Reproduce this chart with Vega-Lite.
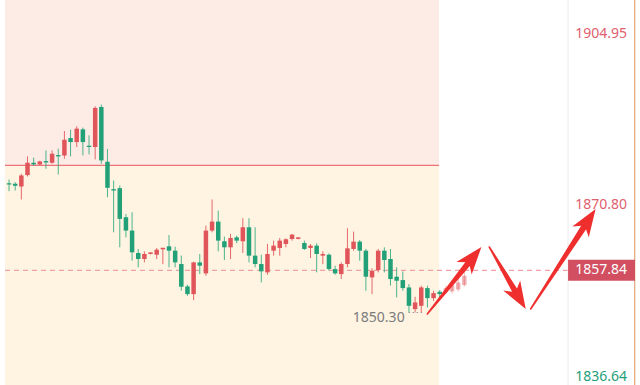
{
  "$schema": "https://vega.github.io/schema/vega-lite/v6.json",
  "width": 640,
  "height": 385,
  "padding": 0,
  "autosize": {"type": "none"},
  "background": "#ffffff",
  "config": {"view": {"stroke": null}},
  "datasets": {
    "zones": [
      {"zone": "upper", "x0": 0.344, "x1": 70.9, "lo": 1878.73, "hi": 1911.67},
      {"zone": "lower", "x0": 0.344, "x1": 70.9, "lo": 1835.0, "hi": 1878.73}
    ],
    "candles": [
      {"i": 1, "o": 1875.20, "h": 1875.93, "l": 1873.60, "c": 1874.93},
      {"i": 2, "o": 1875.06, "h": 1875.40, "l": 1873.73, "c": 1874.67},
      {"i": 3, "o": 1874.53, "h": 1877.06, "l": 1871.94, "c": 1876.73},
      {"i": 4, "o": 1876.80, "h": 1880.52, "l": 1876.53, "c": 1879.26},
      {"i": 5, "o": 1879.26, "h": 1880.26, "l": 1878.72, "c": 1878.92},
      {"i": 6, "o": 1878.92, "h": 1879.66, "l": 1878.79, "c": 1879.52},
      {"i": 7, "o": 1879.59, "h": 1881.72, "l": 1878.06, "c": 1879.32},
      {"i": 8, "o": 1879.26, "h": 1881.72, "l": 1879.06, "c": 1881.05},
      {"i": 9, "o": 1880.79, "h": 1882.05, "l": 1876.93, "c": 1880.52},
      {"i": 10, "o": 1880.72, "h": 1885.58, "l": 1880.06, "c": 1883.85},
      {"i": 11, "o": 1884.18, "h": 1885.85, "l": 1880.52, "c": 1883.38},
      {"i": 12, "o": 1883.38, "h": 1886.51, "l": 1882.39, "c": 1886.05},
      {"i": 13, "o": 1885.91, "h": 1886.25, "l": 1880.72, "c": 1883.38},
      {"i": 14, "o": 1882.65, "h": 1884.72, "l": 1880.92, "c": 1882.39},
      {"i": 15, "o": 1882.39, "h": 1890.51, "l": 1879.92, "c": 1890.17},
      {"i": 16, "o": 1890.37, "h": 1890.84, "l": 1879.06, "c": 1879.72},
      {"i": 17, "o": 1879.46, "h": 1881.99, "l": 1872.40, "c": 1874.27},
      {"i": 18, "o": 1874.00, "h": 1875.73, "l": 1865.41, "c": 1873.73},
      {"i": 19, "o": 1874.20, "h": 1874.73, "l": 1862.42, "c": 1868.08},
      {"i": 20, "o": 1868.41, "h": 1869.07, "l": 1864.41, "c": 1865.75},
      {"i": 21, "o": 1865.75, "h": 1869.41, "l": 1859.76, "c": 1861.42},
      {"i": 22, "o": 1861.29, "h": 1862.09, "l": 1858.43, "c": 1860.09},
      {"i": 23, "o": 1860.09, "h": 1861.62, "l": 1859.42, "c": 1861.09},
      {"i": 24, "o": 1861.10, "h": 1861.45, "l": 1861.00, "c": 1861.40},
      {"i": 25, "o": 1860.95, "h": 1862.29, "l": 1860.09, "c": 1861.95},
      {"i": 26, "o": 1862.02, "h": 1862.35, "l": 1859.09, "c": 1862.32},
      {"i": 27, "o": 1862.62, "h": 1864.88, "l": 1858.43, "c": 1861.75},
      {"i": 28, "o": 1861.75, "h": 1862.55, "l": 1858.43, "c": 1859.42},
      {"i": 29, "o": 1859.09, "h": 1860.76, "l": 1853.77, "c": 1854.57},
      {"i": 30, "o": 1854.63, "h": 1854.96, "l": 1852.77, "c": 1853.10},
      {"i": 31, "o": 1853.10, "h": 1859.56, "l": 1851.90, "c": 1859.42},
      {"i": 32, "o": 1859.42, "h": 1861.09, "l": 1857.09, "c": 1858.76},
      {"i": 33, "o": 1857.23, "h": 1866.74, "l": 1856.76, "c": 1865.75},
      {"i": 34, "o": 1865.75, "h": 1871.94, "l": 1865.41, "c": 1867.54},
      {"i": 35, "o": 1867.54, "h": 1869.74, "l": 1861.62, "c": 1863.75},
      {"i": 36, "o": 1863.62, "h": 1864.55, "l": 1859.89, "c": 1862.42},
      {"i": 37, "o": 1862.42, "h": 1865.08, "l": 1860.09, "c": 1864.28},
      {"i": 38, "o": 1864.41, "h": 1864.75, "l": 1863.22, "c": 1863.75},
      {"i": 39, "o": 1863.62, "h": 1868.21, "l": 1861.29, "c": 1866.41},
      {"i": 40, "o": 1866.41, "h": 1868.21, "l": 1859.42, "c": 1860.76},
      {"i": 41, "o": 1860.76, "h": 1866.41, "l": 1858.43, "c": 1859.09},
      {"i": 42, "o": 1859.09, "h": 1860.95, "l": 1855.43, "c": 1857.63},
      {"i": 43, "o": 1857.43, "h": 1863.08, "l": 1856.96, "c": 1861.09},
      {"i": 44, "o": 1861.75, "h": 1863.75, "l": 1860.76, "c": 1862.75},
      {"i": 45, "o": 1862.29, "h": 1864.28, "l": 1860.76, "c": 1863.75},
      {"i": 46, "o": 1863.08, "h": 1864.22, "l": 1862.42, "c": 1864.02},
      {"i": 47, "o": 1864.08, "h": 1865.08, "l": 1863.75, "c": 1864.95},
      {"i": 48, "o": 1864.10, "h": 1864.45, "l": 1864.00, "c": 1864.40},
      {"i": 49, "o": 1863.28, "h": 1863.75, "l": 1861.89, "c": 1862.09},
      {"i": 50, "o": 1862.29, "h": 1863.08, "l": 1860.29, "c": 1862.75},
      {"i": 51, "o": 1862.75, "h": 1863.22, "l": 1857.43, "c": 1861.09},
      {"i": 52, "o": 1860.76, "h": 1861.62, "l": 1859.09, "c": 1861.09},
      {"i": 53, "o": 1860.95, "h": 1861.22, "l": 1857.76, "c": 1858.09},
      {"i": 54, "o": 1858.09, "h": 1858.76, "l": 1856.96, "c": 1857.23},
      {"i": 55, "o": 1857.09, "h": 1859.42, "l": 1856.10, "c": 1859.09},
      {"i": 56, "o": 1859.09, "h": 1866.21, "l": 1858.43, "c": 1862.22},
      {"i": 57, "o": 1862.09, "h": 1865.55, "l": 1861.75, "c": 1863.55},
      {"i": 58, "o": 1863.55, "h": 1863.88, "l": 1859.76, "c": 1861.75},
      {"i": 59, "o": 1861.75, "h": 1862.09, "l": 1853.77, "c": 1856.56},
      {"i": 60, "o": 1856.43, "h": 1858.23, "l": 1853.10, "c": 1857.76},
      {"i": 61, "o": 1857.89, "h": 1862.09, "l": 1857.43, "c": 1861.75},
      {"i": 62, "o": 1861.75, "h": 1862.42, "l": 1857.43, "c": 1859.89},
      {"i": 63, "o": 1860.09, "h": 1862.09, "l": 1854.77, "c": 1856.10},
      {"i": 64, "o": 1856.56, "h": 1858.43, "l": 1852.44, "c": 1855.76},
      {"i": 65, "o": 1855.90, "h": 1857.63, "l": 1853.77, "c": 1854.30},
      {"i": 66, "o": 1854.43, "h": 1855.10, "l": 1849.44, "c": 1850.77},
      {"i": 67, "o": 1850.11, "h": 1852.57, "l": 1849.44, "c": 1851.44},
      {"i": 68, "o": 1850.77, "h": 1854.77, "l": 1849.44, "c": 1854.43},
      {"i": 69, "o": 1854.30, "h": 1854.77, "l": 1850.44, "c": 1852.30},
      {"i": 70, "o": 1852.30, "h": 1853.77, "l": 1851.77, "c": 1853.30},
      {"i": 71, "o": 1853.57, "h": 1853.90, "l": 1852.10, "c": 1853.10},
      {"i": 72, "o": 1853.50, "h": 1854.77, "l": 1853.10, "c": 1854.30},
      {"i": 73, "o": 1853.63, "h": 1855.43, "l": 1853.23, "c": 1854.90},
      {"i": 74, "o": 1854.03, "h": 1856.10, "l": 1853.63, "c": 1855.43},
      {"i": 75, "o": 1854.90, "h": 1857.63, "l": 1854.57, "c": 1856.76}
    ],
    "labels": [
      {"p": 1904.95, "txt": "1904.95", "kind": "high"},
      {"p": 1870.80, "txt": "1870.80", "kind": "high"},
      {"p": 1836.64, "txt": "1836.64", "kind": "low"}
    ],
    "shafts": [
      {"arrow": "a1", "t": 0, "x": 68.98, "y": 1849.14},
      {"arrow": "a1", "t": 1, "x": 76.36, "y": 1860.33},
      {"arrow": "a2", "t": 0, "x": 79.06, "y": 1862.48},
      {"arrow": "a2", "t": 1, "x": 83.83, "y": 1852.52},
      {"arrow": "a3", "t": 0, "x": 85.78, "y": 1850.13},
      {"arrow": "a3", "t": 1, "x": 95.11, "y": 1867.72}
    ],
    "heads": [
      {"arrow": "a1", "x": 77.78, "y": 1862.48, "heading": 39.4},
      {"arrow": "a2", "x": 84.98, "y": 1850.13, "heading": 149.2},
      {"arrow": "a3", "x": 96.34, "y": 1870.05, "heading": 33.4}
    ]
  },
  "layer": [
    {
      "data": {"name": "zones"},
      "mark": {"type": "rect"},
      "encoding": {
        "x": {"field": "x0", "type": "quantitative", "scale": {"domain": [0.344, 102.74], "nice": false, "zero": false}, "axis": null},
        "x2": {"field": "x1"},
        "y": {"field": "lo", "type": "quantitative", "scale": {"domain": [1835.0, 1911.67], "nice": false, "zero": false}, "axis": null},
        "y2": {"field": "hi"},
        "color": {"condition": {"test": "datum.zone == 'upper'", "value": "#fdebe5"}, "value": "#fef4e1"}
      }
    },
    {
      "data": {"values": [{}]},
      "mark": {"type": "rule", "color": "#ec7378", "strokeWidth": 1.3},
      "encoding": {
        "x": {"datum": 0.344, "type": "quantitative", "scale": {"domain": [0.344, 102.74], "nice": false, "zero": false}, "axis": null},
        "x2": {"datum": 70.9},
        "y": {"datum": 1878.73, "type": "quantitative", "scale": {"domain": [1835.0, 1911.67], "nice": false, "zero": false}, "axis": null}
      }
    },
    {
      "data": {"values": [{}]},
      "mark": {"type": "rule", "color": "#eea2a8", "strokeWidth": 1.2, "strokeDash": [5, 4]},
      "encoding": {
        "x": {"datum": 0.344, "type": "quantitative", "scale": {"domain": [0.344, 102.74], "nice": false, "zero": false}, "axis": null},
        "x2": {"datum": 91.86},
        "y": {"datum": 1857.84, "type": "quantitative", "scale": {"domain": [1835.0, 1911.67], "nice": false, "zero": false}, "axis": null}
      }
    },
    {
      "data": {"values": [{}]},
      "mark": {"type": "rule", "color": "#ebebeb", "strokeWidth": 1},
      "encoding": {
        "x": {"datum": 91.86, "type": "quantitative", "scale": {"domain": [0.344, 102.74], "nice": false, "zero": false}, "axis": null}
      }
    },
    {
      "data": {"values": [{}]},
      "mark": {"type": "rule", "color": "#d9925c", "strokeWidth": 1},
      "encoding": {
        "x": {"datum": 102.7, "type": "quantitative", "scale": {"domain": [0.344, 102.74], "nice": false, "zero": false}, "axis": null}
      }
    },
    {
      "data": {"name": "candles"},
      "mark": {"type": "rule", "strokeWidth": 1},
      "encoding": {
        "x": {"field": "i", "type": "quantitative", "scale": {"domain": [0.344, 102.74], "nice": false, "zero": false}, "axis": null},
        "y": {"field": "l", "type": "quantitative", "scale": {"domain": [1835.0, 1911.67], "nice": false, "zero": false}, "axis": null},
        "y2": {"field": "h"},
        "color": {"condition": {"test": "datum.c >= datum.o", "value": "#e2595d"}, "value": "#3aad84"},
        "opacity": {"condition": {"test": "datum.i > 71", "value": 0.45}, "value": 0.9}
      }
    },
    {
      "data": {"name": "candles"},
      "mark": {"type": "bar", "size": 4.5},
      "encoding": {
        "x": {"field": "i", "type": "quantitative", "scale": {"domain": [0.344, 102.74], "nice": false, "zero": false}, "axis": null},
        "y": {"field": "o", "type": "quantitative", "scale": {"domain": [1835.0, 1911.67], "nice": false, "zero": false}, "axis": null},
        "y2": {"field": "c"},
        "color": {"condition": {"test": "datum.c >= datum.o", "value": "#e0555a"}, "value": "#22a179"},
        "opacity": {"condition": {"test": "datum.i > 71", "value": 0.45}, "value": 1}
      }
    },
    {
      "data": {"values": [{}]},
      "mark": {"type": "rule", "color": "#9a9a9a", "strokeWidth": 1.2, "strokeDash": [1.5, 2.5]},
      "encoding": {
        "x": {"datum": 65.94, "type": "quantitative", "scale": {"domain": [0.344, 102.74], "nice": false, "zero": false}, "axis": null},
        "x2": {"datum": 68.5},
        "y": {"datum": 1849.44, "type": "quantitative", "scale": {"domain": [1835.0, 1911.67], "nice": false, "zero": false}, "axis": null}
      }
    },
    {
      "data": {"values": [{"p": 1848.34, "txt": "1850.30"}]},
      "mark": {"type": "text", "align": "right", "baseline": "middle", "font": "Noto Sans", "fontSize": 14, "color": "#7b7b7b"},
      "encoding": {
        "x": {"datum": 65.3, "type": "quantitative", "scale": {"domain": [0.344, 102.74], "nice": false, "zero": false}, "axis": null},
        "y": {"field": "p", "type": "quantitative", "scale": {"domain": [1835.0, 1911.67], "nice": false, "zero": false}, "axis": null},
        "text": {"field": "txt"}
      }
    },
    {
      "data": {"name": "labels"},
      "mark": {"type": "text", "align": "right", "baseline": "middle", "font": "Noto Sans", "fontSize": 14},
      "encoding": {
        "x": {"datum": 101.46, "type": "quantitative", "scale": {"domain": [0.344, 102.74], "nice": false, "zero": false}, "axis": null},
        "y": {"field": "p", "type": "quantitative", "scale": {"domain": [1835.0, 1911.67], "nice": false, "zero": false}, "axis": null},
        "text": {"field": "txt"},
        "color": {"condition": {"test": "datum.kind == 'low'", "value": "#1f9e78"}, "value": "#e0606e"}
      }
    },
    {
      "data": {"values": [{}]},
      "mark": {"type": "rect", "color": "#d24f61"},
      "encoding": {
        "x": {"datum": 91.86, "type": "quantitative", "scale": {"domain": [0.344, 102.74], "nice": false, "zero": false}, "axis": null},
        "x2": {"datum": 102.74},
        "y": {"datum": 1855.74, "type": "quantitative", "scale": {"domain": [1835.0, 1911.67], "nice": false, "zero": false}, "axis": null},
        "y2": {"datum": 1859.94}
      }
    },
    {
      "data": {"values": [{"p": 1857.84, "txt": "1857.84"}]},
      "mark": {"type": "text", "align": "right", "baseline": "middle", "font": "Noto Sans", "fontSize": 14, "color": "#ffffff"},
      "encoding": {
        "x": {"datum": 101.46, "type": "quantitative", "scale": {"domain": [0.344, 102.74], "nice": false, "zero": false}, "axis": null},
        "y": {"field": "p", "type": "quantitative", "scale": {"domain": [1835.0, 1911.67], "nice": false, "zero": false}, "axis": null},
        "text": {"field": "txt"}
      }
    },
    {
      "data": {"name": "shafts"},
      "mark": {"type": "trail", "color": "#ef2e2e"},
      "encoding": {
        "x": {"field": "x", "type": "quantitative", "scale": {"domain": [0.344, 102.74], "nice": false, "zero": false}, "axis": null},
        "y": {"field": "y", "type": "quantitative", "scale": {"domain": [1835.0, 1911.67], "nice": false, "zero": false}, "axis": null},
        "size": {"field": "t", "type": "quantitative", "scale": {"domain": [0, 1], "range": [1.6, 6.5]}, "legend": null},
        "detail": {"field": "arrow"},
        "order": {"field": "t"}
      }
    },
    {
      "data": {"name": "heads"},
      "mark": {"type": "point", "filled": true, "opacity": 1, "color": "#ef2e2e", "size": 3000, "shape": "M0,0 L0.36,1 L0,0.72 L-0.36,1 Z"},
      "encoding": {
        "x": {"field": "x", "type": "quantitative", "scale": {"domain": [0.344, 102.74], "nice": false, "zero": false}, "axis": null},
        "y": {"field": "y", "type": "quantitative", "scale": {"domain": [1835.0, 1911.67], "nice": false, "zero": false}, "axis": null},
        "angle": {"field": "heading", "type": "quantitative", "scale": {"domain": [0, 360], "range": [0, 360]}}
      }
    }
  ]
}
